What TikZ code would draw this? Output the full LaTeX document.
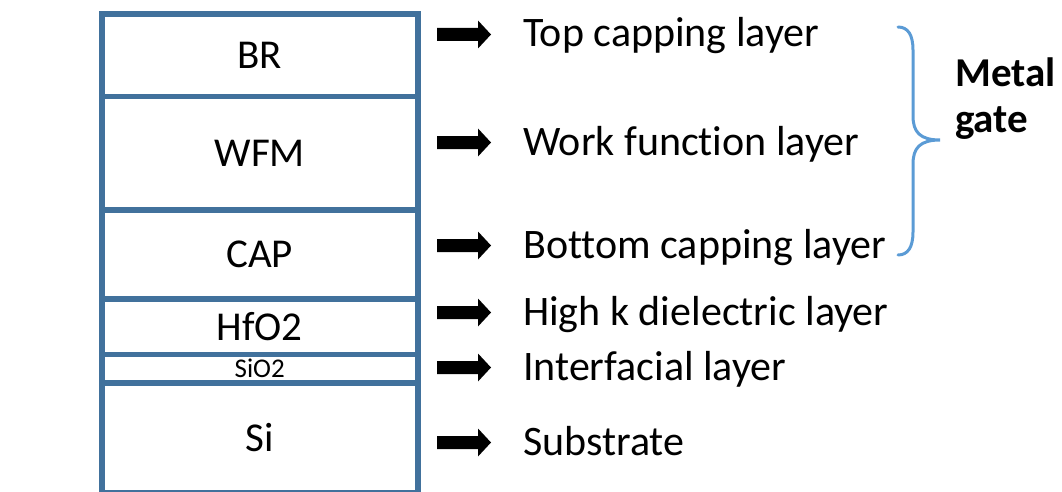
\documentclass[tikz,border=0pt]{standalone}
\usepackage{fontspec}
\setmainfont{Carlito}[Ligatures={NoCommon,NoRare}]
\definecolor{layerblue}{RGB}{65,113,156}
\definecolor{braceblue}{RGB}{91,155,213}
\begin{document}
\begin{tikzpicture}[x=1pt,y=-1pt,
  layer/.style={draw=layerblue, line width=5.5pt, fill=white, rectangle,
    minimum width=316pt, anchor=north west, inner sep=0pt,
    font=\fontsize{41}{48}\selectfont},
  thinlayer/.style={layer, font=\fontsize{27}{30}\selectfont},
  desc/.style={anchor=base west, inner sep=0pt, font=\fontsize{42}{48}\selectfont},
  blockarrow/.pic={\fill[black] (0,-6.5) -- (41,-6.5) -- (41,-14) -- (54,0)
    -- (41,14) -- (41,6.5) -- (0,6.5) -- cycle;},
  bracestyle/.style={draw=braceblue, line width=3pt, line cap=round}]
\useasboundingbox (0,0) rectangle (1062,492);

% gate stack, top to bottom
\node[layer, minimum height=82.5pt] (br)   at (99,11.5)  {BR};
\node[layer, minimum height=113pt]  (wfm)  at (99,94)    {WFM};
\node[layer, minimum height=89pt]   (cap)  at (99,207)   {CAP};
\node[layer, minimum height=55.5pt] (hfo)  at (99,296)   {HfO2};
\node[thinlayer, minimum height=28.5pt] (sio) at (99,351.5) {SiO2};
\node[layer, minimum height=110pt]  (si)   at (99,380)   {Si};

% arrows pointing to the layer descriptions
\pic (a1) at (437,34.5)  {blockarrow};
\pic (a2) at (437,142.5) {blockarrow};
\pic (a3) at (437,245.5) {blockarrow};
\pic (a4) at (437,312.5) {blockarrow};
\pic (a5) at (437,367.5) {blockarrow};
\pic (a6) at (437,442.5) {blockarrow};

% layer descriptions
\node[desc] (d1) at (523,47)  {Top capping layer};
\node[desc] (d2) at (523,155) {Work function layer};
\node[desc] (d3) at (523,258) {Bottom capping layer};
\node[desc] (d4) at (523,325) {High k dielectric layer};
\node[desc] (d5) at (523,380) {Interfacial layer};
\node[desc] (d6) at (523,455) {Substrate};

% brace grouping the metal gate layers
\coordinate (btop) at (898,27);
\coordinate (btip) at (940,140);
\coordinate (bbot) at (898,255);
\draw[bracestyle] (btop) .. controls (908,27) and (913,35) .. (913,50)
  -- (913,116) .. controls (913,132) and (920,140) .. (btip)
  .. controls (920,140) and (913,148) .. (913,164)
  -- (913,232) .. controls (913,247) and (908,255) .. (bbot);

\node[anchor=base west, inner sep=0pt, align=left,
  font=\fontsize{41}{46}\bfseries\selectfont] (mg) at (955,132)
  {Metal\\gate};
\end{tikzpicture}
\end{document}
